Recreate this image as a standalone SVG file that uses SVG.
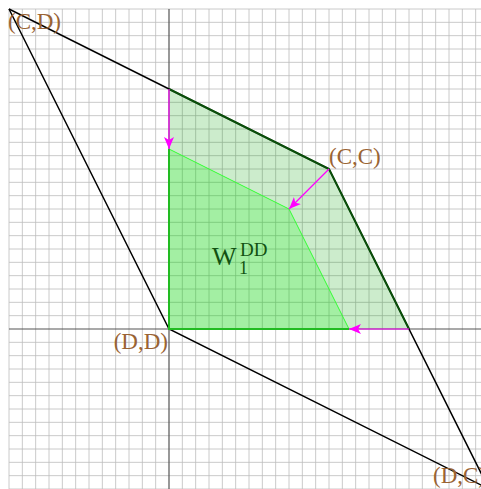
<svg xmlns="http://www.w3.org/2000/svg" width="481" height="489" viewBox="0 0 481 489">
<defs>
<style>
.grid{stroke:#bdbdbd;stroke-width:0.8;fill:none}
.axis{stroke:#555;stroke-width:1.2;fill:none}
.edge{stroke:#000;stroke-width:1.5;fill:none}
.lbl{font-family:"Liberation Serif","DejaVu Serif",serif;font-size:23px;fill:#9a6333}
.w{font-family:"Liberation Serif","DejaVu Serif",serif;fill:#125212}
.arr{stroke:#ff00ff;stroke-width:1.2;fill:none}
</style>
<marker id="ah" viewBox="0 0 12 10" refX="12" refY="5" markerWidth="12" markerHeight="10" markerUnits="userSpaceOnUse" orient="auto">
<path d="M0,0 L12,5 L0,10 L3,5 Z" fill="#ff00ff"/>
</marker>
</defs>
<rect width="481" height="489" fill="#fff"/>
<g id="grid">
<path class="grid" d="M9,9V489M22.33,9V489M35.67,9V489M49,9V489M62.33,9V489M75.67,9V489M89,9V489M102.33,9V489M115.67,9V489M129,9V489M142.33,9V489M155.67,9V489M182.33,9V489M195.67,9V489M209,9V489M222.33,9V489M235.67,9V489M249,9V489M262.33,9V489M275.67,9V489M289,9V489M302.33,9V489M315.67,9V489M329,9V489M342.33,9V489M355.67,9V489M369,9V489M382.33,9V489M395.67,9V489M409,9V489M422.33,9V489M435.67,9V489M449,9V489M462.33,9V489M475.67,9V489
M9,9H481M9,22.33H481M9,35.67H481M9,49H481M9,62.33H481M9,75.67H481M9,89H481M9,102.33H481M9,115.67H481M9,129H481M9,142.33H481M9,155.67H481M9,169H481M9,182.33H481M9,195.67H481M9,209H481M9,222.33H481M9,235.67H481M9,249H481M9,262.33H481M9,275.67H481M9,289H481M9,302.33H481M9,315.67H481M9,342.33H481M9,355.67H481M9,369H481M9,382.33H481M9,395.67H481M9,409H481M9,422.33H481M9,435.67H481M9,449H481M9,462.33H481M9,475.67H481M9,489H481"/>
<path class="axis" d="M169,9V489M9,329H481"/>
</g>
<g id="regions">
<polygon id="outer" points="169,89 329,169 409,329 169,329" fill="#00a000" fill-opacity="0.2"/>
<polygon id="W1DD" points="169,149 289,209 349,329 169,329" fill="#00ff00" fill-opacity="0.2"/>
<polyline points="169,149 289,209 349,329" fill="none" stroke="#33ff33" stroke-width="1"/>
</g>
<g id="connectors">
<path class="edge" d="M9,9L169,329L489,489M329,169L489,489"/>
<path class="edge" d="M9,9L329,169"/>
<polyline points="169,89 329,169 409,329" fill="none" stroke="#0a4f0a" stroke-width="2"/>
<path d="M169,149V329H349" fill="none" stroke="#22bb22" stroke-width="2"/>
<path class="arr" stroke="#b030b0" d="M169,89V149" marker-end="url(#ah)"/>
<path class="arr" d="M329,169L289,209" marker-end="url(#ah)"/>
<path class="arr" stroke="#b030b0" d="M409,329H349" marker-end="url(#ah)"/>
</g>
<g id="labels">
<text class="lbl" x="8" y="29">(C,D)</text>
<text class="lbl" x="329" y="164">(C,C)</text>
<text class="lbl" x="168" y="349" text-anchor="end">(D,D)</text>
<text class="lbl" x="433" y="483">(D,C)</text>
<text class="w" x="212" y="265" font-size="26">W<tspan font-size="18" x="239" y="274">1</tspan><tspan font-size="19" x="240" y="256">DD</tspan></text>
</g>
</svg>
